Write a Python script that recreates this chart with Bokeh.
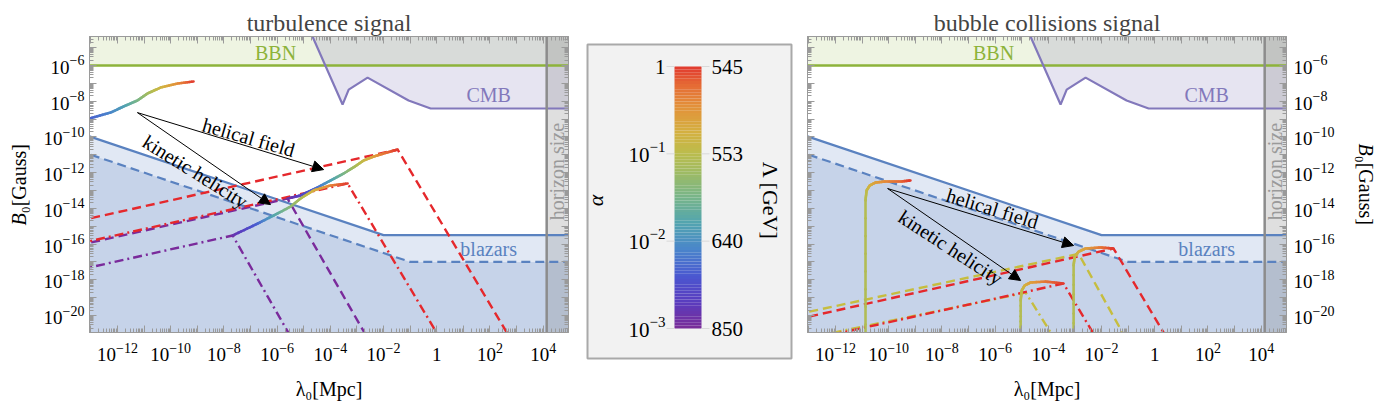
import numpy as np
from bokeh.plotting import figure
from bokeh.layouts import row, column
from bokeh.models import Range1d, FixedTicker, LogAxis, Arrow, NormalHead, Spacer
from bokeh.core.properties import value
from bokeh.embed import file_html
from bokeh.resources import INLINE

SERIF = "Liberation Serif"
FRAME = "#9a9a9a"

# ---------------- axes (log10 of the plotted ranges) ----------------
LAM_LIM = (-13.05, 4.95)
B_LIM = (-20.95, -4.38)
lam_major_exp = list(range(-13, 5))
lam_label_exp = [-12, -10, -8, -6, -4, -2, 0, 2, 4]
B_major_exp = list(range(-20, -4))
B_label_exp = [-20, -18, -16, -14, -12, -10, -8, -6]

# ---------------- observational bounds (log10 values) ----------------
bbn_B_exp = -6.0
cmb_lam_exp = [-5.08, -3.54, -3.31, -2.60, -1.06, -0.23, 5.5]
cmb_B_exp = [-3.0, -8.19, -7.35, -6.68, -7.96, -8.41, -8.41]
blazar_upper_lam_exp = [-13.5, -2.0, 5.5]
blazar_upper_B_exp = [-9.75, -15.5, -15.5]
blazar_lower_lam_exp = [-13.5, -1.0, 5.5]
blazar_lower_B_exp = [-10.75, -17.0, -17.0]
horizon_lam_exp = 4.13

# ---------------- turbulence signal ----------------
# peak trajectories as alpha runs (alpha given as log10)
turb_init_lam = [-13.05, -12.26, -11.77, -11.25, -10.87, -10.38, -9.74, -9.14]
turb_init_B = [-8.97, -8.64, -8.30, -7.96, -7.57, -7.24, -7.01, -6.90]
turb_init_alpha = [-2.34, -2.10, -1.86, -1.50, -1.20, -0.84, -0.45, 0.0]

turb_hel_peak_lam = [-5.61, -5.12, -4.48, -3.99, -3.50, -3.13, -2.75, -2.37, -2.00, -1.47]
turb_hel_peak_B = [-13.45, -13.28, -12.83, -12.44, -12.05, -11.71, -11.32, -11.10, -10.93, -10.71]
turb_hel_peak_alpha = [-2.94, -2.64, -2.25, -1.86, -1.50, -1.20, -0.90, -0.60, -0.30, 0.0]

turb_kin_peak_lam = [-7.67, -6.81, -6.13, -5.49, -5.12, -4.63, -3.99, -3.35]
turb_kin_peak_B = [-15.52, -14.91, -14.40, -13.90, -13.45, -13.00, -12.72, -12.61]
turb_kin_peak_alpha = [-2.85, -2.40, -1.80, -1.35, -1.14, -0.75, -0.39, 0.0]

# present-day spectra
turb_hel_a1_lam, turb_hel_a1_B = [-13.5, -1.47, 2.85], [-14.72, -10.71, -21.5]
turb_kin_a1_lam, turb_kin_a1_B = [-13.5, -3.35, 0.21], [-15.99, -12.61, -21.5]
turb_hel_a3_lam, turb_hel_a3_B = [-13.5, -5.61, -2.51], [-16.08, -13.45, -21.5]
turb_kin_a3_lam, turb_kin_a3_B = [-13.5, -7.67, -5.37], [-17.46, -15.52, -21.5]

# ---------------- bubble collisions signal ----------------
bub_init_lam = [-10.87, -10.87, -10.83, -10.71, -10.49, -10.12, -9.55, -9.18]
bub_init_B = [-21.5, -13.56, -13.00, -12.72, -12.55, -12.50, -12.50, -12.44]
bub_init_alpha = [-1.08, -1.05, -0.96, -0.78, -0.60, -0.42, -0.21, 0.0]

bub_kin_peak_lam = [-5.04, -5.04, -5.00, -4.89, -4.67, -4.10, -3.43]
bub_kin_peak_B = [-21.5, -19.16, -18.60, -18.32, -18.15, -18.10, -18.21]
bub_kin_peak_alpha = [-1.08, -1.05, -0.96, -0.78, -0.60, -0.30, 0.0]

bub_hel_peak_lam = [-3.05, -3.05, -3.01, -2.86, -2.60, -2.04, -1.55]
bub_hel_peak_B = [-21.5, -17.20, -16.70, -16.42, -16.25, -16.19, -16.25]
bub_hel_peak_alpha = [-1.08, -1.05, -0.96, -0.78, -0.60, -0.30, 0.0]

bub_hel_a1_lam, bub_hel_a1_B = [-13.5, -1.55, 0.55], [-20.23, -16.25, -21.5]
bub_hel_a01_lam, bub_hel_a01_B = [-13.5, -2.86, -1.01], [-19.95, -16.55, -21.5]
bub_kin_a1_lam, bub_kin_a1_B = [-13.5, -3.43, -2.11], [-21.53, -18.21, -21.5]
bub_kin_a01_lam, bub_kin_a01_B = [-13.5, -4.85, -3.68], [-21.40, -18.72, -21.5]

# annotations: arrows (start, helical end, kinetic end) and text anchors, log10
turb_arrow = dict(start=(-11.25, -8.64), hel=(-4.25, -11.83), kin=(-6.25, -13.79))
turb_text = dict(hel=(-7.07, -10.03, -16), kin=(-9.07, -11.94, -32))
bub_arrow = dict(start=(-10.04, -12.89), hel=(-3.05, -16.08), kin=(-5.04, -18.04))
bub_text = dict(hel=(-6.10, -14.01, -17), kin=(-7.67, -16.19, -33))

# colour bar
alpha_tick_exp = [0, -1, -2, -3]
Lambda_tick_labels = ["545", "553", "640", "850"]

RED = "#e5282c"
PURPLE = "#7a2a9b"
YELLOW = "#c6bd3f"
BLUE = "#5a82c0"
GREEN = "#8db33a"
CMBC = "#8278bb"

RAINBOW = [
    (0.00, (122, 44, 151)), (0.10, (90, 60, 190)), (0.20, (74, 87, 208)),
    (0.30, (74, 133, 203)), (0.40, (82, 164, 176)), (0.50, (119, 181, 138)),
    (0.60, (160, 187, 98)), (0.67, (188, 188, 76)), (0.75, (212, 176, 64)),
    (0.85, (227, 144, 58)), (0.93, (229, 106, 53)), (1.00, (225, 57, 46)),
]

# layout in pixels
FRAME_W, FRAME_H = 479, 296
TOP, BOT_PAD = 36, 4
MAIN_H = TOP + FRAME_H + BOT_PAD          # 336
STRIP_H = 403 - MAIN_H                    # 67
PXX = FRAME_W / (LAM_LIM[1] - LAM_LIM[0])
PXY = FRAME_H / (B_LIM[1] - B_LIM[0])

BASE_PX, EXP_PX, RISE = 19, 14, 7
MINUS = "\u2212"


def rainbow(t):
    t = min(max(t, 0.0), 1.0)
    for (t0, c0), (t1, c1) in zip(RAINBOW[:-1], RAINBOW[1:]):
        if t <= t1:
            f = (t - t0) / (t1 - t0)
            c = [int(round(a + f * (b - a))) for a, b in zip(c0, c1)]
            return "#%02x%02x%02x" % tuple(c)
    return "#%02x%02x%02x" % RAINBOW[-1][1]


def p10(v):
    return (10.0 ** np.asarray(v, dtype=float)).tolist()


def exp_text(e):
    return (MINUS if e < 0 else "") + str(abs(e))


def exp_width(e, size=EXP_PX):
    return 0.5 * size * len(str(abs(e))) + (0.564 * size if e < 0 else 0)


def style_axis(ax, major_exp):
    ax.ticker = FixedTicker(
        ticks=p10(major_exp),
        minor_ticks=[k * 10.0 ** e for e in range(major_exp[0] - 1, major_exp[-1] + 2) for k in range(2, 10)],
    )
    ax.major_tick_in = 7
    ax.major_tick_out = 0
    ax.minor_tick_in = 4
    ax.minor_tick_out = 0
    ax.axis_line_color = FRAME
    ax.major_tick_line_color = FRAME
    ax.minor_tick_line_color = FRAME
    ax.major_label_text_font_size = "1px"
    ax.major_label_text_alpha = 0.0
    ax.major_label_standoff = 0


def rainbow_path(p, lam, B, alpha, sub=8):
    # each straight piece is drawn in short runs so the colour can follow alpha
    lam, B, a = (np.asarray(v, dtype=float) for v in (lam, B, alpha))
    x0, y0, x1, y1, cols = [], [], [], [], []
    for i in range(len(lam) - 1):
        for k in range(sub):
            f0, f1 = k / sub, (k + 1) / sub
            x0.append(lam[i] + f0 * (lam[i + 1] - lam[i]))
            y0.append(B[i] + f0 * (B[i + 1] - B[i]))
            x1.append(lam[i] + f1 * (lam[i + 1] - lam[i]))
            y1.append(B[i] + f1 * (B[i + 1] - B[i]))
            am = a[i] + 0.5 * (f0 + f1) * (a[i + 1] - a[i])
            cols.append(rainbow((am + 3.0) / 3.0))
    p.segment(x0=p10(x0), y0=p10(y0), x1=p10(x1), y1=p10(y1),
              line_color=cols, line_width=2.6, line_cap="round")


def put(fig, x, y, s, size=BASE_PX, align="center", angle=0.0, color="black", style="normal"):
    fig.text(x=[x], y=[y], text=[s], angle=angle, text_font=value(SERIF), text_font_size=f"{size}px",
             text_font_style=style, text_align=align, text_baseline="middle", text_color=color)


def bare(fig):
    fig.grid.visible = False
    fig.outline_line_color = None
    return fig


def make_panel(title, side):
    if side == "left":
        mw, ml, mr, lw = 495, 4, 12, 85
    else:
        mw, ml, mr, lw = 490, 7, 4, 90
    xr_ = Range1d(10 ** LAM_LIM[0], 10 ** LAM_LIM[1])
    yr_ = Range1d(10 ** B_LIM[0], 10 ** B_LIM[1])
    p = figure(width=mw, height=MAIN_H, x_axis_type="log", y_axis_type="log", x_range=xr_, y_range=yr_,
               y_axis_location=side, output_backend="svg", toolbar_location=None, title=title,
               min_border_top=TOP, min_border_bottom=BOT_PAD, min_border_left=ml, min_border_right=mr)
    p.grid.visible = False
    p.outline_line_color = FRAME
    p.title.align = "center"
    p.title.text_font = SERIF
    p.title.text_font_size = "24px"
    p.title.text_font_style = "normal"
    p.title.standoff = 2

    style_axis(p.xaxis[0], lam_major_exp)
    style_axis(p.yaxis[0], B_major_exp)
    top = LogAxis()
    style_axis(top, lam_major_exp)
    p.add_layout(top, "above")
    other = LogAxis()
    style_axis(other, B_major_exp)
    p.add_layout(other, "right" if side == "left" else "left")

    lo, hi = 10.0 ** -22, 10.0 ** -3
    xl, xr = 10.0 ** -14, 10.0 ** 6
    # BBN bound
    p.varea(x=[xl, xr], y1=[10 ** bbn_B_exp] * 2, y2=[hi, hi], fill_color=GREEN, fill_alpha=0.15)
    # CMB bound
    p.varea(x=p10(cmb_lam_exp), y1=p10(cmb_B_exp), y2=[hi] * len(cmb_lam_exp), fill_color=CMBC, fill_alpha=0.2)
    # blazar bounds
    p.varea(x=p10(blazar_upper_lam_exp), y1=[lo] * 3, y2=p10(blazar_upper_B_exp), fill_color=BLUE, fill_alpha=0.18)
    p.varea(x=p10(blazar_lower_lam_exp), y1=[lo] * 3, y2=p10(blazar_lower_B_exp), fill_color=BLUE, fill_alpha=0.2)
    # horizon
    p.quad(left=[10 ** horizon_lam_exp], right=[xr], bottom=[lo], top=[hi],
           fill_color="#7f7f7f", fill_alpha=0.25, line_color=None)

    p.line(x=[xl, xr], y=[10 ** bbn_B_exp] * 2, line_color=GREEN, line_width=2.5)
    p.line(x=p10(cmb_lam_exp), y=p10(cmb_B_exp), line_color=CMBC, line_width=2.2)
    p.line(x=p10(blazar_upper_lam_exp), y=p10(blazar_upper_B_exp), line_color=BLUE, line_width=2.2)
    p.line(x=p10(blazar_lower_lam_exp), y=p10(blazar_lower_B_exp), line_color=BLUE, line_width=2.2,
           line_dash="9 5")
    p.line(x=[10 ** horizon_lam_exp] * 2, y=[lo, hi], line_color="#8c8c8c", line_width=2.5)

    def txt(x, y, s, color, angle=0.0, size=20):
        put(p, 10 ** x, 10 ** y, s, size=size, angle=angle, color=color)

    txt(-6.06, -5.33, "BBN", GREEN)
    txt(1.95, -7.68, "CMB", CMBC)
    txt(1.95, -16.25, "blazars", BLUE)
    txt(4.51, -11.94, "horizon size", "#9a9a9a", angle=np.pi / 2)

    # ---- strip below the frame: lambda tick labels and axis title ----
    xs = bare(figure(width=mw, height=STRIP_H, x_axis_type="log", x_range=xr_, y_range=Range1d(0, STRIP_H),
                     x_axis_location=None, y_axis_location=None, output_backend="svg", toolbar_location=None,
                     min_border_left=ml, min_border_right=mr, min_border_top=0, min_border_bottom=0))
    ty = STRIP_H - 18
    for e in lam_label_exp:
        if e == 0:
            put(xs, 1.0, ty, "1")
            continue
        wb, we = BASE_PX, exp_width(e)
        split = 10 ** (e + (-(wb + we) / 2 + wb) / PXX)
        put(xs, split, ty, "10", align="right")
        put(xs, split, ty + RISE, exp_text(e), size=EXP_PX, align="left")
    put(xs, 10 ** (0.5 * (LAM_LIM[0] + LAM_LIM[1])), STRIP_H - 52, "λ₀[Mpc]", size=20)

    # ---- strip beside the frame: B tick labels and axis title ----
    ys = bare(figure(width=lw, height=MAIN_H, y_axis_type="log", y_range=yr_, x_range=Range1d(0, lw),
                     x_axis_location=None, y_axis_location=None, output_backend="svg", toolbar_location=None,
                     min_border_top=TOP, min_border_bottom=BOT_PAD, min_border_left=0, min_border_right=0))
    ymid = 0.5 * (B_LIM[0] + B_LIM[1])
    half, wB = 41, 0.611 * 20
    for e in B_label_exp:
        yb = 10 ** (e - 2 / PXY)
        ye = 10 ** (e + (RISE - 2) / PXY)
        if side == "left":
            we = exp_width(e)
            put(ys, lw - 1 - we, yb, "10", align="right")
            put(ys, lw - 1 - we, ye, exp_text(e), size=EXP_PX, align="left")
        else:
            put(ys, 3, yb, "10", align="left")
            put(ys, 3 + BASE_PX, ye, exp_text(e), size=EXP_PX, align="left")
    if side == "left":
        put(ys, 18, 10 ** (ymid - half / PXY), "B", size=20, align="left", angle=np.pi / 2, style="italic")
        put(ys, 18, 10 ** (ymid + (wB - half) / PXY), "₀[Gauss]", size=20, align="left", angle=np.pi / 2)
        panel = column(row(ys, p), row(Spacer(width=lw, height=STRIP_H), xs))
    else:
        put(ys, 75, 10 ** (ymid + half / PXY), "B", size=20, align="left", angle=-np.pi / 2, style="italic")
        put(ys, 75, 10 ** (ymid + (half - wB) / PXY), "₀[Gauss]", size=20, align="left", angle=-np.pi / 2)
        panel = column(row(p, ys), row(xs, Spacer(width=lw, height=STRIP_H)))
    return p, txt, panel


def draw_spectrum(p, lam, B, color, dash):
    p.line(x=p10(lam), y=p10(B), line_color=color, line_width=2.4, line_dash=dash)


def annotate(p, txt, arrow, text):
    for key in ("hel", "kin"):
        (x0, y0), (x1, y1) = arrow["start"], arrow[key]
        p.add_layout(Arrow(x_start=10 ** x0, y_start=10 ** y0, x_end=10 ** x1, y_end=10 ** y1,
                           line_color="black", line_width=1,
                           end=NormalHead(size=11, fill_color="black", line_color="black")))
    tx, ty, ang = text["hel"]
    txt(tx, ty, "helical field", "black", angle=np.deg2rad(ang))
    tx, ty, ang = text["kin"]
    txt(tx, ty, "kinetic helicity", "black", angle=np.deg2rad(ang))


DASH = "9 5"
DASHDOT = "9 4 2 4"

# ---- turbulence panel ----
p1, txt1, panel1 = make_panel("turbulence signal", "left")
draw_spectrum(p1, turb_kin_a3_lam, turb_kin_a3_B, PURPLE, DASHDOT)
draw_spectrum(p1, turb_hel_a3_lam, turb_hel_a3_B, PURPLE, DASH)
draw_spectrum(p1, turb_kin_a1_lam, turb_kin_a1_B, RED, DASHDOT)
draw_spectrum(p1, turb_hel_a1_lam, turb_hel_a1_B, RED, DASH)
rainbow_path(p1, turb_init_lam, turb_init_B, turb_init_alpha)
rainbow_path(p1, turb_hel_peak_lam, turb_hel_peak_B, turb_hel_peak_alpha)
rainbow_path(p1, turb_kin_peak_lam, turb_kin_peak_B, turb_kin_peak_alpha)
annotate(p1, txt1, turb_arrow, turb_text)

# ---- bubble collision panel ----
p2, txt2, panel2 = make_panel("bubble collisions signal", "right")
draw_spectrum(p2, bub_kin_a01_lam, bub_kin_a01_B, YELLOW, DASHDOT)
draw_spectrum(p2, bub_hel_a01_lam, bub_hel_a01_B, YELLOW, DASH)
draw_spectrum(p2, bub_kin_a1_lam, bub_kin_a1_B, RED, DASHDOT)
draw_spectrum(p2, bub_hel_a1_lam, bub_hel_a1_B, RED, DASH)
rainbow_path(p2, bub_init_lam, bub_init_B, bub_init_alpha)
rainbow_path(p2, bub_kin_peak_lam, bub_kin_peak_B, bub_kin_peak_alpha)
rainbow_path(p2, bub_hel_peak_lam, bub_hel_peak_B, bub_hel_peak_alpha)
annotate(p2, txt2, bub_arrow, bub_text)

# ---- colour bar panel (pixel coordinates, y up) ----
pc = bare(figure(width=220, height=403, x_range=Range1d(0, 220), y_range=Range1d(0, 403),
                 x_axis_location=None, y_axis_location=None, min_border=0,
                 output_backend="svg", toolbar_location=None))
pc.quad(left=[7], right=[211], bottom=[45], top=[359], fill_color="#f2f2f2",
        line_color="#a9a9a9", line_width=2)
bar_l, bar_r, bar_b, bar_t = 94, 121, 75, 337
nb = 90
edges = np.linspace(bar_b, bar_t, nb + 1)
pc.quad(left=[bar_l] * nb, right=[bar_r] * nb, bottom=edges[:-1].tolist(), top=edges[1:].tolist(),
        fill_color=[rainbow((i + 0.5) / nb) for i in range(nb)], line_color=None)
tick_y = [bar_b + (e + 3) / 3 * (bar_t - bar_b) for e in alpha_tick_exp]
pc.segment(x0=[bar_l - 8] * 4, y0=tick_y, x1=[bar_l] * 4, y1=tick_y, line_color="#d9d9d9", line_width=1)
pc.segment(x0=[bar_r] * 4, y0=tick_y, x1=[bar_r + 8] * 4, y1=tick_y, line_color="#d9d9d9", line_width=1)

CB_BASE, CB_EXP = 21, 15
for e, y in zip(alpha_tick_exp, tick_y):
    if e == 0:
        put(pc, 85, y, "1", size=CB_BASE, align="right")
    else:
        we = exp_width(e, CB_EXP)
        put(pc, 85 - we, y - 1, "10", size=CB_BASE, align="right")
        put(pc, 85 - we, y + 7, exp_text(e), size=CB_EXP, align="left")
for s, y in zip(Lambda_tick_labels, tick_y):
    put(pc, 131, y, s, size=CB_BASE, align="left")
put(pc, 15, 203, "α", size=22, angle=np.pi / 2, style="italic")
put(pc, 190, 203, "Λ [GeV]", size=22, angle=-np.pi / 2)

layout = row(panel1, pc, panel2)
open("out.html", "w").write(file_html(layout, INLINE))
